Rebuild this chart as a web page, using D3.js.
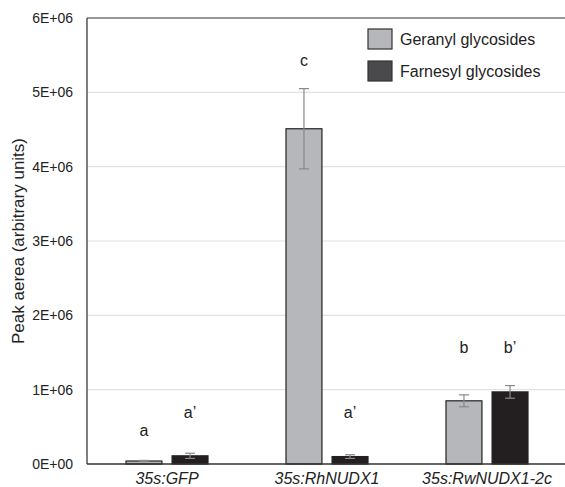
<!DOCTYPE html>
<html>
<head>
<meta charset="utf-8">
<script src="https://cdn.jsdelivr.net/npm/d3@7"></script>
<style>
body { margin: 0; background: #fff; overflow: hidden; }
text { font-family: "Liberation Sans", Arial, sans-serif; fill: #222; }
</style>
</head>
<body>
<main></main>
<script>
var width = 565;
var height = 487;

var groups = ["35s:GFP", "35s:RhNUDX1", "35s:RwNUDX1-2c"];
var seriesNames = ["Geranyl glycosides", "Farnesyl glycosides"];
var geranyl = [40000, 4510000, 850000];
var geranylErr = [8000, 540000, 80000];
var farnesyl = [110000, 100000, 970000];
var farnesylErr = [35000, 25000, 85000];
var letters = [["a", "a\u2019"], ["c", "a\u2019"], ["b", "b\u2019"]];
var letterValues = [[380000, 620000], [5350000, 620000], [1500000, 1500000]];
var yTicks = [0, 1e6, 2e6, 3e6, 4e6, 5e6, 6e6];

var fills = ["#b6b7ba", "#231f20"];
var legendFills = ["#b6b7ba", "#4a4a4c"];

var plotLeft = 87, plotRight = 567, plotTop = 18, plotBottom = 464;

var svg = d3.select("main").append("svg")
    .attr("width", width)
    .attr("height", height);

var x = d3.scaleBand().domain(groups).range([plotLeft, plotRight]);
var xs = d3.scaleBand().domain([0, 1]).range([0, 82]).paddingInner(0.22);
var y = d3.scaleLinear().domain([0, 6e6]).range([plotBottom, plotTop]);

// grid
svg.append("g").selectAll("line")
    .data(yTicks.slice(1, 6))
  .enter().append("line")
    .attr("x1", plotLeft).attr("x2", plotRight)
    .attr("y1", function(d) { return y(d); })
    .attr("y2", function(d) { return y(d); })
    .style("stroke", "#e2e2e2")
    .style("stroke-width", 1.2);

svg.append("line")
    .attr("x1", plotLeft).attr("x2", plotRight)
    .attr("y1", y(6e6)).attr("y2", y(6e6))
    .style("stroke", "#333")
    .style("stroke-width", 1.2);

// y axis labels
svg.append("g").selectAll("text")
    .data(yTicks)
  .enter().append("text")
    .attr("x", 73)
    .attr("y", function(d) { return y(d) + 5; })
    .attr("text-anchor", "end")
    .style("font-size", "14px")
    .text(function(d) { return d3.format(".0e")(d).replace("e+", "E+0"); });

svg.append("text")
    .attr("transform", "translate(24," + ((plotTop + plotBottom) / 2) + ") rotate(-90)")
    .attr("text-anchor", "middle")
    .style("font-size", "17px")
    .text("Peak aerea (arbitrary units)");

var series = [geranyl, farnesyl];
var errs = [geranylErr, farnesylErr];

series.forEach(function(vals, s) {
  var g = svg.append("g");
  g.selectAll("rect")
      .data(groups)
    .enter().append("rect")
      .attr("x", function(d) { return x(d) + 39 + xs(s); })
      .attr("width", xs.bandwidth())
      .attr("y", function(d, i) { return y(vals[i]); })
      .attr("height", function(d, i) { return plotBottom - y(vals[i]); })
      .style("fill", fills[s])
      .style("stroke", "#222")
      .style("stroke-width", 1.2);

  groups.forEach(function(d, i) {
    var cx = x(d) + 39 + xs(s) + xs.bandwidth() / 2;
    var hi = y(vals[i] + errs[s][i]), lo = y(vals[i] - errs[s][i]);
    var col = "#888";
    g.append("line").attr("x1", cx).attr("x2", cx).attr("y1", hi).attr("y2", lo)
        .style("stroke", col).style("stroke-width", 1.2);
    [hi, lo].forEach(function(yy) {
      g.append("line").attr("x1", cx - 5).attr("x2", cx + 5).attr("y1", yy).attr("y2", yy)
          .style("stroke", col).style("stroke-width", 1.2);
    });
    svg.append("text")
        .attr("x", cx)
        .attr("y", y(letterValues[i][s]))
        .attr("text-anchor", "middle")
        .style("font-size", "16px")
        .text(letters[i][s]);
  });
});

// axis lines
svg.append("line")
    .attr("x1", plotLeft).attr("x2", plotLeft).attr("y1", plotTop).attr("y2", plotBottom)
    .style("stroke", "#555").style("stroke-width", 1.5);
svg.append("line")
    .attr("x1", plotLeft).attr("x2", plotRight).attr("y1", plotBottom).attr("y2", plotBottom)
    .style("stroke", "#333").style("stroke-width", 1.5);

// x labels
svg.append("g").selectAll("text")
    .data(groups)
  .enter().append("text")
    .attr("x", function(d) { return x(d) + 80; })
    .attr("y", 484)
    .attr("text-anchor", "middle")
    .style("font-size", "16px")
    .style("font-style", "italic")
    .text(function(d) { return d; });

// legend
var legend = svg.append("g").attr("transform", "translate(368,29)");
seriesNames.forEach(function(name, i) {
  legend.append("rect")
      .attr("x", 0).attr("y", i * 32)
      .attr("width", 24).attr("height", 20)
      .style("fill", legendFills[i])
      .style("stroke", "#333")
      .style("stroke-width", 1.2);
  legend.append("text")
      .attr("x", 32).attr("y", i * 32 + 16)
      .style("font-size", "16px")
      .text(name);
});
</script>
</body>
</html>
